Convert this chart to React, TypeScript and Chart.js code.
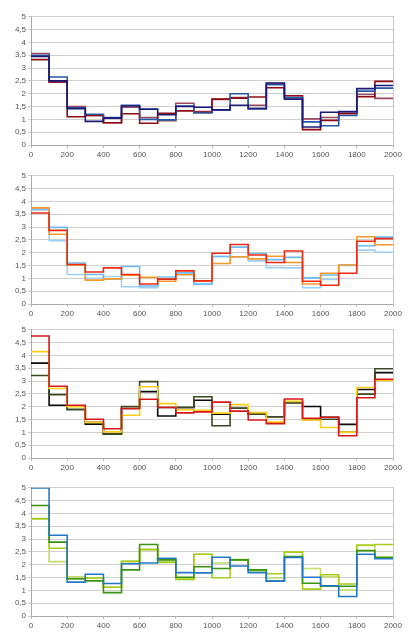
import { useEffect, useRef } from 'react';
import { Chart, registerables } from 'chart.js';

Chart.register(...registerables);

// bin edges (x axis), 100 wide each
const binEdges = [0, 100, 200, 300, 400, 500, 600, 700, 800, 900, 1000, 1100, 1200, 1300, 1400, 1500, 1600, 1700, 1800, 1900, 2000];
const yTicks = [0, 0.5, 1, 1.5, 2, 2.5, 3, 3.5, 4, 4.5, 5];
const xTicks = [0, 200, 400, 600, 800, 1000, 1200, 1400, 1600, 1800, 2000];

// panel 1
const p1Navy = [3.45, 2.5, 1.42, 0.92, 1.05, 1.52, 1.4, 1.18, 1.5, 1.47, 1.37, 1.55, 1.42, 2.42, 1.79, 0.7, 1.28, 1.3, 2.2, 2.32];
const p1Blue = [3.5, 2.65, 1.45, 1.2, 1.07, 1.55, 1.0, 0.98, 1.52, 1.25, 1.37, 2.0, 1.42, 2.35, 1.85, 0.9, 0.75, 1.15, 2.1, 2.22];
const p1DarkRed = [3.33, 2.47, 1.1, 1.15, 0.87, 1.22, 0.85, 1.24, 1.33, 1.28, 1.79, 1.83, 1.87, 2.23, 1.92, 0.6, 0.96, 1.22, 1.88, 2.48];
const p1Rose = [3.57, 2.45, 1.5, 1.15, 0.87, 1.47, 1.07, 0.95, 1.63, 1.3, 1.78, 1.85, 1.55, 2.4, 1.85, 1.02, 1.07, 1.25, 1.97, 1.82];

// panel 2
const p2Red = [3.55, 2.87, 1.54, 1.25, 1.41, 1.15, 0.78, 0.97, 1.29, 0.9, 1.98, 2.32, 1.91, 1.62, 2.07, 0.89, 0.73, 1.2, 2.45, 2.55];
const p2Orange = [3.75, 2.72, 1.52, 0.93, 0.98, 1.12, 1.04, 0.89, 1.14, 0.9, 1.58, 1.84, 1.76, 1.86, 1.62, 0.78, 1.2, 1.52, 2.62, 2.31];
const p2Blue = [3.68, 2.99, 1.6, 1.15, 0.98, 1.46, 0.7, 1.0, 1.22, 0.77, 1.85, 2.22, 1.97, 1.73, 1.82, 1.02, 1.13, 1.52, 2.27, 2.61];
const p2LightBlue = [3.7, 2.47, 1.15, 1.0, 1.07, 0.67, 0.64, 1.06, 1.2, 0.8, 1.85, 1.83, 1.68, 1.42, 1.41, 0.64, 0.96, 1.5, 2.1, 2.02];

// panel 3
const p3Red = [4.76, 2.8, 2.06, 1.51, 1.14, 1.93, 2.29, 1.97, 1.76, 1.8, 2.18, 1.83, 1.48, 1.34, 2.3, 1.55, 1.59, 0.87, 2.35, 3.07];
const p3Yellow = [4.15, 2.71, 2.0, 1.39, 1.02, 1.67, 2.78, 2.12, 1.88, 1.86, 1.75, 2.08, 1.77, 1.4, 2.21, 1.48, 1.19, 1.01, 2.75, 3.02];
const p3Olive = [3.22, 2.47, 1.89, 1.39, 0.93, 2.01, 2.98, 1.97, 1.97, 2.39, 1.26, 1.94, 1.71, 1.61, 2.16, 1.5, 1.51, 1.01, 2.49, 3.48];
const p3Black = [3.7, 2.06, 1.89, 1.32, 0.93, 1.93, 2.59, 1.64, 1.97, 2.25, 1.71, 1.94, 1.71, 1.61, 2.16, 2.01, 1.59, 1.31, 2.67, 3.33];

// panel 4
const p4Blue = [4.99, 3.15, 1.32, 1.63, 1.27, 2.04, 2.07, 2.25, 1.69, 1.68, 2.29, 1.95, 1.69, 1.36, 2.28, 1.51, 1.18, 0.76, 2.41, 2.23];
const p4Green = [4.31, 2.88, 1.45, 1.37, 0.91, 1.8, 2.79, 2.19, 1.51, 1.92, 1.85, 2.19, 1.8, 1.36, 2.32, 1.28, 1.16, 1.16, 2.55, 2.28];
const p4YellowGreen = [3.8, 2.64, 1.45, 1.48, 1.12, 2.13, 2.6, 2.09, 1.44, 2.41, 1.49, 2.19, 1.8, 1.65, 2.49, 1.05, 1.61, 1.25, 2.77, 2.79];
const p4LightGreen = [3.78, 2.12, 1.53, 1.48, 1.12, 2.13, 2.58, 2.12, 1.42, 2.41, 2.07, 2.2, 1.76, 1.48, 2.49, 1.85, 1.53, 1.01, 2.75, 2.3];

const panels = [
  {
    top: 10,
    series: [
      { values: p1Navy, color: '#1c1a78' },
      { values: p1Blue, color: '#2a58a6' },
      { values: p1DarkRed, color: '#8e0c12' },
      { values: p1Rose, color: '#9a4a5c' },
    ],
  },
  {
    top: 169,
    series: [
      { values: p2Red, color: '#ec2a12' },
      { values: p2Orange, color: '#f7982a' },
      { values: p2Blue, color: '#6cbcf2' },
      { values: p2LightBlue, color: '#9fd0f5' },
    ],
  },
  {
    top: 323,
    series: [
      { values: p3Red, color: '#d81818' },
      { values: p3Yellow, color: '#ffcc1a' },
      { values: p3Olive, color: '#3a4a22' },
      { values: p3Black, color: '#0a0a0a' },
    ],
  },
  {
    top: 481,
    series: [
      { values: p4Blue, color: '#2278c8' },
      { values: p4Green, color: '#3a9410' },
      { values: p4YellowGreen, color: '#a8cc1c' },
      { values: p4LightGreen, color: '#c4dc6a' },
    ],
  },
];

const font = { family: '"Liberation Sans", Arial, sans-serif', size: 8 };

// one point per bin start, plus the closing edge at 2000
const toSteps = (values: number[]) => [
  ...values.map((v, i) => ({ x: binEdges[i], y: v })),
  { x: binEdges[binEdges.length - 1], y: values[values.length - 1] },
];

const Panel = ({ top, series }) => {
  const chartRef = useRef(null);

  useEffect(() => {
    const ctx = chartRef.current.getContext('2d');
    const chartInstance = new Chart(ctx, {
      type: 'line',
      data: {
        datasets: series.map(s => ({
          data: toSteps(s.values),
          borderColor: s.color,
          borderWidth: 1.6,
          stepped: 'before',
          pointRadius: 0,
          fill: false,
        })),
      },
      options: {
        animation: false,
        responsive: false,
        layout: { padding: { top: 0, right: 24, left: 0, bottom: 0 } },
        plugins: {
          legend: { display: false },
          tooltip: { enabled: false },
        },
        scales: {
          x: {
            type: 'linear',
            min: 0,
            max: 2000,
            afterBuildTicks: axis => {
              axis.ticks = xTicks.map(v => ({ value: v }));
            },
            ticks: { font, color: '#555', padding: 2, maxRotation: 0, callback: v => String(v) },
            grid: { drawOnChartArea: false, tickLength: 3, color: '#bbb' },
            border: { color: '#aaa' },
            afterFit: axis => {
              axis.height = 15;
            },
          },
          y: {
            min: 0,
            max: 5,
            afterBuildTicks: axis => {
              axis.ticks = yTicks.map(v => ({ value: v }));
            },
            ticks: {
              font,
              color: '#555',
              padding: 2,
              callback: v => String(v).replace('.', ','),
            },
            grid: { color: '#cfcfcf', tickLength: 3 },
            border: { color: '#aaa' },
            afterFit: axis => {
              axis.width = 31;
            },
          },
          y2: {
            position: 'right',
            min: 0,
            max: 5,
            ticks: { display: false },
            grid: { display: false },
            border: { color: '#c8c8c8' },
            afterFit: axis => {
              axis.width = 0;
            },
          },
        },
      },
    });

    return () => {
      chartInstance.destroy();
    };
  }, [series]);

  return (
    <div style={{ position: 'absolute', left: 0, top, width: 417, height: 150 }}>
      <canvas ref={chartRef} width={417} height={150} style={{ width: 417, height: 150 }} />
    </div>
  );
};

export default function App() {
  return (
    <div style={{ position: 'absolute', left: 0, top: 0, width: 417, height: 640, background: '#fff' }}>
      {panels.map((p, i) => (
        <Panel key={i} top={p.top} series={p.series} />
      ))}
    </div>
  );
}
